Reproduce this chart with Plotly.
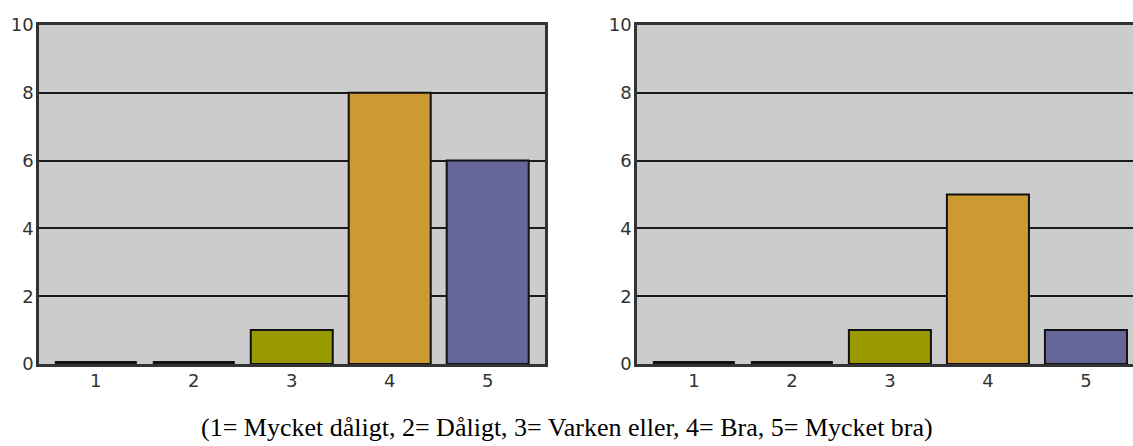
import plotly.graph_objects as go

categories = ["1", "2", "3", "4", "5"]
values_left = [0, 0, 1, 8, 6]
values_right = [0, 0, 1, 5, 1]
bar_colors = ["#999900", "#999900", "#999900", "#CC9933", "#666699"]
y_ticks = [0, 2, 4, 6, 8, 10]
caption = "(1= Mycket dåligt, 2= Dåligt, 3= Varken eller, 4= Bra, 5= Mycket bra)"

W, H = 1133, 446

fig = go.Figure()
for vals, xa, ya in [(values_left, "x", "y"), (values_right, "x2", "y2")]:
    fig.add_trace(go.Bar(
        x=categories, y=vals, xaxis=xa, yaxis=ya,
        marker=dict(color=bar_colors,
                    line=dict(color="#111111", width=[6 if v == 0 else 2 for v in vals])),
        showlegend=False, hoverinfo="x+y",
    ))

axis_common = dict(
    showline=True, linecolor="#333333", linewidth=2.5, mirror=True, automargin=False,
    tickfont=dict(family="DejaVu Sans", size=18, color="#333333"),
)

y_dom = [1 - 364 / H, 1 - 25 / H]

fig.update_layout(
    width=W, height=H,
    margin=dict(l=0, r=0, t=0, b=0, autoexpand=False),
    paper_bgcolor="white", plot_bgcolor="#cccccc",
    bargap=0.163,
    xaxis=dict(domain=[39 / W, 545 / W], range=[-0.58, 4.585], anchor="y",
               showgrid=False, ticks="", ticklabelstandoff=-1, **axis_common),
    yaxis=dict(domain=y_dom, range=[0, 10], anchor="x",
               tickvals=y_ticks, showgrid=True, gridcolor="#1a1a1a", gridwidth=2,
               zeroline=False, ticks="", ticklabelstandoff=-1, **axis_common),
    xaxis2=dict(domain=[637 / W, 1.0], range=[-0.58, 4.48], anchor="y2",
                showgrid=False, ticks="", ticklabelstandoff=-1, **axis_common),
    yaxis2=dict(domain=y_dom, range=[0, 10], anchor="x2",
                tickvals=y_ticks, showgrid=True, gridcolor="#1a1a1a", gridwidth=2,
                zeroline=False, ticks="", ticklabelstandoff=-1, **axis_common),
    annotations=[dict(
        text=caption, xref="paper", yref="paper", x=567 / W,
        y=(446 - 427) / H,
        xanchor="center", yanchor="middle", showarrow=False,
        font=dict(family="Liberation Serif", size=26, color="#000000"),
    )],
)

fig.write_html(
    "out.html",
    config={"displayModeBar": False},
    post_script="document.body.style.margin='0';document.body.style.overflow='hidden';",
)
